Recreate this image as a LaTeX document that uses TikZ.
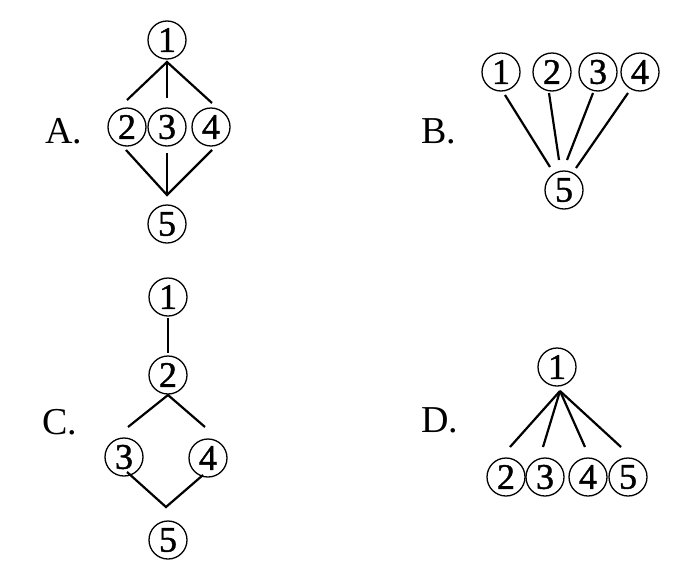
\documentclass[tikz,border=0pt]{standalone}
\usepackage{fontspec}
\setmainfont{Liberation Serif}
\newfontfamily\numfont[FakeBold=1.2]{Liberation Serif}
\usetikzlibrary{calc}
\tikzset{
  num/.style={circle,draw,line width=1.3pt,minimum size=38pt,inner sep=0pt,font=\numfont\fontsize{36}{36}\selectfont},
  lab/.style={font=\fontsize{38}{38}\selectfont,inner sep=0pt},
  edge/.style={line width=2.2pt}
}
\begin{document}
\begin{tikzpicture}[x=1pt,y=-1pt]
\useasboundingbox (0,0) rectangle (700,581);
% A
\node[lab] (la) at (64,131) {A.};
\node[num] (a1) at (167,40) {1};
\node[num] (a2) at (127,127) {2};
\node[num] (a3) at (167,127) {3};
\node[num] (a4) at (211,127) {4};
\node[num] (a5) at (167,224) {5};
\coordinate (atop) at ($(a1)+(0,22)$);
\coordinate (abot) at ($(a5)+(0,-29)$);
\draw[edge] ($(a2)+(0,-27)$) -- (atop) -- ($(a4)+(1,-24)$);
\draw[edge] (atop) -- ($(a3)+(0,-29)$);
\draw[edge] ($(a2)+(-1,23)$) -- (abot) -- ($(a4)+(1,23)$);
\draw[edge] ($(a3)+(0,26)$) -- (abot);
% B
\node[lab] (lb) at (439,131) {B.};
\node[num] (b1) at (501,72) {1};
\node[num] (b2) at (552,72) {2};
\node[num] (b3) at (598,72) {3};
\node[num] (b4) at (640,72) {4};
\node[num] (b5) at (564,190) {5};
\draw[edge] ($(b1)+(4,23)$) -- ($(b5)+(-14,-23)$);
\draw[edge] ($(b2)+(-3,21)$) -- ($(b5)+(-5,-30)$);
\draw[edge] ($(b3)+(-5,21)$) -- ($(b5)+(3,-30)$);
\draw[edge] ($(b4)+(-12,21)$) -- ($(b5)+(12,-22)$);
% C
\node[lab] (lc) at (60,422) {C.};
\node[num] (c1) at (168,297) {1};
\node[num] (c2) at (168,375) {2};
\node[num] (c3) at (124,457) {3};
\node[num] (c4) at (208,458) {4};
\node[num] (c5) at (168,540) {5};
\draw[edge] ($(c1)+(0,21)$) -- ($(c2)+(0,-22)$);
\coordinate (ctop) at ($(c2)+(0,20)$);
\coordinate (cbot) at ($(c5)+(-2,-33)$);
\draw[edge] ($(c3)+(4,-30)$) -- (ctop) -- ($(c4)+(-3,-31)$);
\draw[edge] ($(c3)+(3,15)$) -- (cbot) -- ($(c4)+(-5,17)$);
% D
\node[lab] (ld) at (440,420) {D.};
\node[num] (d1) at (557,367) {1};
\node[num] (d2) at (506,477) {2};
\node[num] (d3) at (545,477) {3};
\node[num] (d4) at (588,477) {4};
\node[num] (d5) at (628,477) {5};
\coordinate (dtop) at ($(d1)+(3,24)$);
\draw[edge] (dtop) -- ($(d2)+(4,-30)$);
\draw[edge] (dtop) -- ($(d3)+(-2,-30)$);
\draw[edge] (dtop) -- ($(d4)+(-3,-30)$);
\draw[edge] (dtop) -- ($(d5)+(-7,-30)$);
\end{tikzpicture}
\end{document}
